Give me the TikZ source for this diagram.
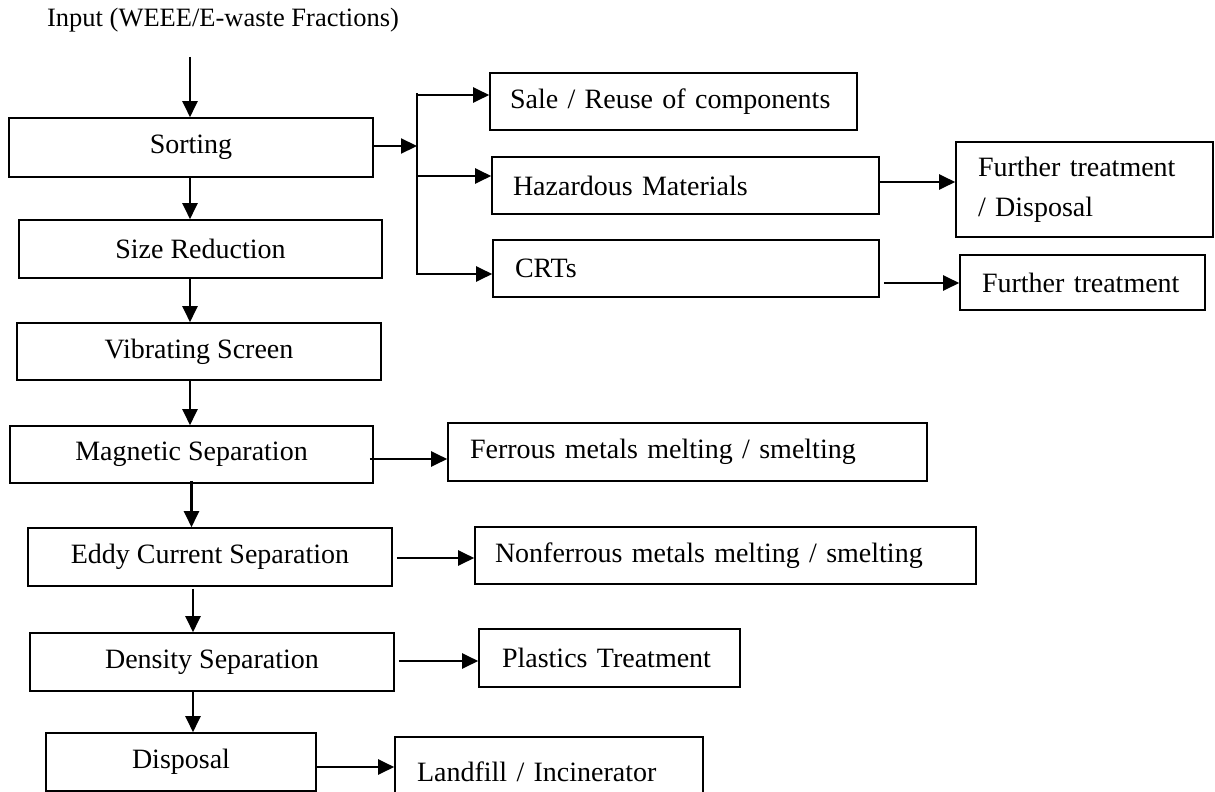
\documentclass[tikz,border=0pt]{standalone}
\usepackage{fontspec}
\setmainfont{Liberation Serif}
\usetikzlibrary{arrows.meta,calc}
\begin{document}
\begin{tikzpicture}[x=1pt,y=-1pt,
  box/.style={draw, line width=1.6pt, inner sep=0pt, font=\fontsize{28}{34}\selectfont},
  lbox/.style={box, align=left},
  arr/.style={line width=2.2pt, -{Triangle[length=16pt,width=15pt]}},
  ln/.style={line width=2.2pt}]
\useasboundingbox (0,0) rectangle (1215,792);

% input label
\node[font=\fontsize{26.5}{30}\selectfont, inner sep=0pt] (inp) at (223,20) {Input (WEEE/E-waste Fractions)};

% main column
\node[box, minimum width=364pt, minimum height=59pt] (sort) at (191,147.5) {Sorting};
\node[box, minimum width=363pt, minimum height=58pt] (size) at (200.5,249) {Size Reduction};
\node[box, minimum width=364pt, minimum height=57pt] (vib)  at (199,351.5) {Vibrating Screen};
\node[box, minimum width=363pt, minimum height=57pt] (mag)  at (191.5,454.5) {Magnetic Separation};
\node[box, minimum width=364pt, minimum height=58pt] (eddy) at (210,557) {Eddy Current Separation};
\node[box, minimum width=364pt, minimum height=58pt] (dens) at (212,662) {Density Separation};
\node[box, minimum width=270pt, minimum height=58pt] (disp) at (181,762) {Disposal};

% right-hand boxes
\node[lbox, inner xsep=20pt, text width=327pt, minimum height=57pt] (sale) at (673.5,101.5) {Sale / Reuse of components};
\node[lbox, inner xsep=21pt, text width=345pt, minimum height=57pt] (haz)  at (685.5,185.5) {Hazardous Materials};
\node[lbox, inner xsep=22pt, text width=342pt, minimum height=57pt] (crt)  at (686,268.5) {CRTs};
\node[lbox, inner xsep=22pt, text width=213pt, minimum height=95pt, font=\fontsize{28}{40}\selectfont] (ft1) at (1084.5,189.5) {Further treatment\\/ Disposal};
\node[lbox, inner xsep=22pt, text width=201pt, minimum height=55pt] (ft2) at (1082.5,282.5) {Further treatment};
\node[lbox, inner xsep=22pt, text width=435pt, minimum height=58pt] (fer)  at (687.5,452) {Ferrous metals melting / smelting};
\node[lbox, inner xsep=20pt, text width=461pt, minimum height=57pt] (nonf) at (725.5,555.5) {Nonferrous metals melting / smelting};
\node[lbox, inner xsep=23pt, text width=215pt, minimum height=58pt] (plas) at (609.5,658) {Plastics Treatment};
\node[lbox, inner xsep=22pt, text width=264pt, minimum height=70pt] (land) at (549,772) {Landfill / Incinerator};

% coordinates for connector levels
\coordinate (inA) at (190,57);
\coordinate (trTop) at (417,93);
\coordinate (trBot) at (417,273);
\coordinate (ySort) at (0,146);
\coordinate (ySale) at (0,95);
\coordinate (yHaz) at (0,176);
\coordinate (yCrt) at (0,274);
\coordinate (yFt1) at (0,182);
\coordinate (yFt2) at (0,283);
\coordinate (yFer) at (0,459);
\coordinate (yNonf) at (0,558);
\coordinate (yPlas) at (0,661);
\coordinate (yLand) at (0,767);
\coordinate (xMain) at (190,0);
\coordinate (xLow) at (193,0);

% vertical flow
\draw[arr] (inA) -- (inA |- sort.north);
\draw[arr] (sort.south -| xMain) -- (size.north -| xMain);
\draw[arr] (size.south -| xMain) -- (vib.north -| xMain);
\draw[arr] (vib.south -| xMain) -- (mag.north -| xMain);
\draw[arr] ([yshift=3pt]mag.south) -- (mag.south |- eddy.north);
\draw[arr] ([yshift=-2pt]eddy.south -| xLow) -- (dens.north -| xLow);
\draw[arr] (dens.south -| xLow) -- (disp.north -| xLow);

% sorting branches
\draw[arr] (sort.east |- ySort) -- (trTop |- ySort);
\draw[ln] (trTop) -- (trBot);
\draw[arr] ([xshift=-1pt]trTop |- ySale) -- (sale.west |- ySale);
\draw[arr] ([xshift=-1pt]trTop |- yHaz) -- (haz.west |- yHaz);
\draw[arr] ([xshift=-1pt]trTop |- yCrt) -- (crt.west |- yCrt);
\draw[arr] (haz.east |- yFt1) -- (ft1.west |- yFt1);
\draw[arr] ([xshift=4pt]crt.east |- yFt2) -- (ft2.west |- yFt2);

% side outputs
\draw[arr] ([xshift=-4pt]mag.east |- yFer) -- (fer.west |- yFer);
\draw[arr] ([xshift=4pt]eddy.east |- yNonf) -- (nonf.west |- yNonf);
\draw[arr] ([xshift=4pt]dens.east |- yPlas) -- (plas.west |- yPlas);
\draw[arr] (disp.east |- yLand) -- (land.west |- yLand);
\end{tikzpicture}
\end{document}
